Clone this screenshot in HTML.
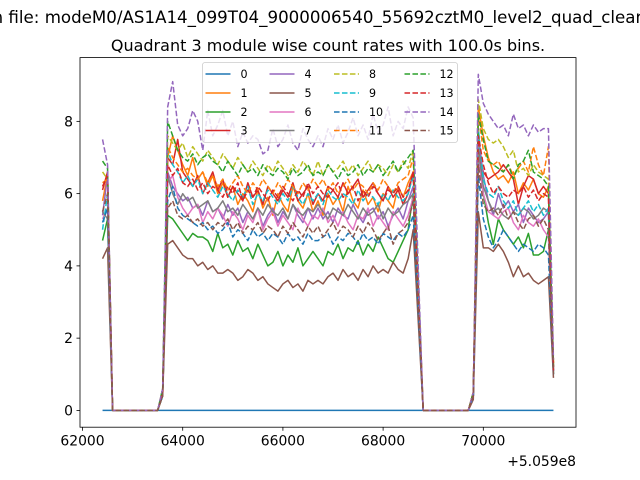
<!DOCTYPE html>
<html><head><meta charset="utf-8"><style>
html,body{margin:0;padding:0;background:#fff;}
svg{display:block;font-family:"DejaVu Sans","Liberation Sans",sans-serif;}
</style></head><body>
<svg id="chart" width="640" height="480" viewBox="0 0 640 480" xmlns="http://www.w3.org/2000/svg">
<rect x="0" y="0" width="640" height="480" fill="#fff"/>
<text id="suptitle" x="678" y="23" font-size="16.67" text-anchor="end" fill="#000">Data from file: modeM0/AS1A14_099T04_9000006540_55692cztM0_level2_quad_clean.evt</text>
<text x="328" y="51" font-size="16" text-anchor="middle" fill="#000">Quadrant 3 module wise count rates with 100.0s bins.</text>
<g id="plot"></g>
<g id="axes"></g>
<g id="legend"></g>
</svg>
<script>
const t0 = 62400;
const step = 100;
const xTicks = [62000, 64000, 66000, 68000, 70000];
const xTickLabels = ["62000", "64000", "66000", "68000", "70000"];
const yTicks = [0, 2, 4, 6, 8];
const yTickLabels = ["0", "2", "4", "6", "8"];
const offsetLabel = "+5.059e8";
const seriesNames = ["0","1","2","3","4","5","6","7","8","9","10","11","12","13","14","15"];
const seriesColors = ["#1f77b4","#ff7f0e","#2ca02c","#d62728","#9467bd","#8c564b","#e377c2","#7f7f7f","#bcbd22","#17becf","#1f77b4","#ff7f0e","#2ca02c","#d62728","#9467bd","#8c564b"];
const seriesDashed = [false,false,false,false,false,false,false,false,true,true,true,true,true,true,true,true];

const s0 = [0,0,0,0,0,0,0,0,0,0,0,0,0,0,0,0,0,0,0,0,0,0,0,0,0,0,0,0,0,0,0,0,0,0,0,0,0,0,0,0,0,0,0,0,0,0,0,0,0,0,0,0,0,0,0,0,0,0,0,0,0,0,0,0,0,0,0,0,0,0,0,0,0,0,0,0,0,0,0,0,0,0,0,0,0,0,0,0,0,0,0];
const s1 = [5.8,6.5,0,0,0,0,0,0,0,0,0,0,0.5,
7.0,7.6,7.2,6.8,6.5,7.0,6.4,6.6,6.2,6.5,6.0,6.3,5.9,6.2,5.7,6.0,5.8,5.5,6.1,5.6,5.9,5.4,6.0,5.7,5.5,6.2,5.8,5.6,6.0,5.5,5.8,5.4,6.0,5.7,5.9,5.5,6.2,5.8,5.6,6.1,5.7,5.9,5.5,6.0,5.8,5.6,6.2,5.9,6.3,6.6,
3.3,0,0,0,0,0,0,0,0,0,0,0.5,
8.4,7.6,7.0,6.6,6.4,6.5,6.3,6.6,6.0,6.3,6.1,6.4,6.0,5.9,6.2,1.2];
const s2 = [4.7,5.3,0,0,0,0,0,0,0,0,0,0,0.4,
5.4,5.3,5.1,4.9,4.7,4.9,4.8,4.8,4.7,4.4,4.9,4.5,4.6,4.3,4.7,4.4,4.5,4.2,4.6,4.3,4.0,4.1,4.4,4.0,4.3,4.1,4.5,4.0,4.2,4.4,4.2,4.0,4.4,4.3,4.6,4.2,4.5,4.4,4.7,4.3,4.6,4.4,4.8,4.5,4.2,4.1,4.4,4.7,5.0,6.0,
3.0,0,0,0,0,0,0,0,0,0,0,0.4,
7.8,6.0,5.2,4.6,5.3,5.0,4.8,4.6,4.8,4.5,4.9,4.3,4.3,4.4,5.0,1.0];
const s3 = [6.1,6.6,0,0,0,0,0,0,0,0,0,0,0.5,
7.0,6.8,7.5,6.6,6.4,6.2,6.5,6.0,6.3,6.6,6.1,6.4,5.9,6.2,6.0,5.8,6.3,5.9,6.1,5.7,6.2,6.0,5.8,6.1,5.9,6.3,5.8,6.0,6.2,5.7,6.0,5.8,6.2,6.1,5.9,6.3,6.0,6.2,6.4,5.9,6.1,6.3,6.0,5.8,6.2,5.9,6.1,5.7,6.0,6.6,
3.3,0,0,0,0,0,0,0,0,0,0,0.5,
7.2,6.6,6.4,6.5,6.6,6.8,6.6,6.4,5.7,6.2,6.5,6.4,6.0,6.2,6.0,1.2];
const s4 = [5.4,6.5,0,0,0,0,0,0,0,0,0,0,0.5,
6.6,6.2,6.0,5.8,5.9,5.6,5.7,5.4,5.8,5.5,5.6,5.3,5.7,5.4,5.6,5.2,5.5,5.3,5.6,5.1,5.4,5.6,5.2,5.5,5.3,5.7,5.4,5.2,5.6,5.3,5.6,5.3,5.5,5.2,5.6,5.4,5.3,5.7,5.4,5.2,5.5,5.6,5.3,5.5,5.1,5.4,5.6,5.3,5.8,6.2,
3.1,0,0,0,0,0,0,0,0,0,0,0.4,
7.6,6.5,5.8,5.4,6.0,5.6,5.8,5.5,5.7,5.2,5.6,5.4,5.2,5.3,5.5,1.1];
const s5 = [4.2,4.5,0,0,0,0,0,0,0,0,0,0,0.4,
4.6,4.7,4.5,4.3,4.2,4.2,4.0,4.1,3.9,4.0,3.8,3.8,3.9,3.8,3.6,3.7,3.9,3.8,3.6,3.7,3.5,3.4,3.3,3.5,3.6,3.4,3.5,3.3,3.6,3.5,3.6,3.5,3.7,3.8,3.6,3.9,3.7,3.8,3.6,3.9,3.7,4.0,3.8,3.9,3.8,4.1,3.9,3.8,4.2,5.0,
2.5,0,0,0,0,0,0,0,0,0,0,0.3,
5.5,4.5,4.5,4.4,4.6,4.4,4.1,3.7,4.0,3.7,3.8,3.6,3.5,3.6,3.7,0.9];
const s6 = [5.3,5.6,0,0,0,0,0,0,0,0,0,0,0.5,
6.3,6.5,5.9,5.6,5.4,5.6,5.7,5.2,5.5,5.3,5.6,5.4,5.1,5.5,5.3,5.0,5.4,5.2,5.6,5.0,5.3,5.5,5.1,5.4,5.2,5.0,5.6,5.3,5.1,5.4,5.3,5.6,5.2,5.4,5.1,5.5,5.2,5.0,5.4,5.3,5.6,5.1,5.4,5.2,5.0,5.5,5.3,5.1,5.4,5.9,
3.0,0,0,0,0,0,0,0,0,0,0,0.4,
7.0,6.0,5.5,5.4,5.3,5.5,5.6,5.2,5.0,5.4,5.2,5.1,5.3,5.0,4.8,1.1];
const s7 = [5.5,5.3,0,0,0,0,0,0,0,0,0,0,0.5,
6.5,6.0,5.7,6.0,5.8,5.9,5.6,5.7,5.8,5.5,5.6,5.8,5.5,5.6,5.4,5.7,5.5,5.3,5.6,5.4,5.7,5.5,5.4,5.6,5.3,5.7,5.5,5.4,5.6,5.5,5.7,5.5,5.3,5.6,5.5,5.4,5.7,5.5,5.3,5.6,5.4,5.5,5.7,5.3,5.6,5.4,5.5,5.7,5.8,6.0,
3.0,0,0,0,0,0,0,0,0,0,0,0.4,
7.2,6.2,5.8,5.5,5.6,5.4,5.3,5.5,5.4,5.6,5.5,5.3,5.4,5.6,5.5,1.1];
const s8 = [6.6,6.4,0,0,0,0,0,0,0,0,0,0,0.6,
7.6,7.4,7.2,7.4,7.0,7.3,7.1,6.9,7.2,7.0,6.8,7.1,6.9,6.7,7.0,6.8,6.6,6.9,6.7,6.5,6.8,6.6,6.9,6.7,6.5,6.8,6.6,6.9,6.7,6.5,6.9,6.5,6.8,6.6,6.7,6.9,6.6,6.8,6.5,6.7,6.9,6.6,6.8,6.7,6.5,6.8,6.6,6.9,6.7,7.2,
3.6,0,0,0,0,0,0,0,0,0,0,0.5,
8.6,7.8,7.5,7.4,7.5,7.3,7.0,7.2,6.6,6.7,6.5,6.8,6.6,6.5,6.4,1.3];
const s9 = [5.0,6.0,0,0,0,0,0,0,0,0,0,0,0.5,
7.2,6.8,6.6,6.3,6.5,6.2,6.4,6.0,6.3,6.1,5.9,6.2,6.0,5.8,6.1,5.9,6.2,5.7,6.0,5.8,6.1,5.9,5.7,6.0,5.8,6.2,5.9,5.7,6.0,5.8,6.0,5.7,6.1,5.9,5.8,6.0,5.9,5.7,6.1,5.8,6.0,5.9,5.7,6.0,5.8,6.1,5.9,5.8,6.0,6.5,
3.2,0,0,0,0,0,0,0,0,0,0,0.4,
7.8,6.4,6.0,5.9,6.2,5.8,5.6,5.8,5.4,5.6,5.8,5.5,5.7,5.4,5.6,1.1];
const s10 = [5.2,5.6,0,0,0,0,0,0,0,0,0,0,0.4,
5.8,6.2,5.6,5.4,5.3,5.2,5.1,5.2,5.0,5.1,4.9,5.0,5.2,4.8,5.0,4.9,4.7,5.0,4.8,4.9,4.7,4.9,4.8,4.6,4.9,4.7,4.8,4.6,4.9,4.7,4.7,4.8,4.9,4.6,4.8,4.7,4.9,4.8,4.6,4.9,4.7,4.8,4.6,4.9,4.8,4.7,4.9,4.8,5.0,5.4,
2.8,0,0,0,0,0,0,0,0,0,0,0.4,
6.5,5.3,4.8,4.5,4.7,5.0,4.8,4.6,4.4,4.6,4.5,4.4,4.6,4.5,4.3,1.0];
const s11 = [6.3,6.4,0,0,0,0,0,0,0,0,0,0,0.5,
7.3,7.0,6.8,6.6,6.7,6.5,6.4,6.6,6.3,6.5,6.2,6.4,6.1,6.3,6.5,6.2,6.0,6.3,6.1,6.4,6.2,6.0,6.3,6.1,6.4,6.2,6.0,6.3,6.1,6.4,6.2,6.4,6.1,6.3,6.0,6.2,6.4,6.1,6.3,6.2,6.0,6.3,6.1,6.4,6.2,6.0,6.3,6.4,6.5,7.0,
3.5,0,0,0,0,0,0,0,0,0,0,0.5,
8.2,7.2,6.9,6.8,6.9,6.6,6.8,6.5,6.7,6.9,6.6,7.3,6.8,6.5,7.3,1.3];
const s12 = [6.9,6.7,0,0,0,0,0,0,0,0,0,0,0.6,
8.0,7.6,7.2,7.0,6.9,7.1,6.8,7.0,7.1,6.9,6.8,6.6,6.9,6.7,6.5,6.8,6.6,6.7,6.5,6.8,6.6,6.5,6.7,6.6,6.4,6.7,6.5,6.6,6.8,6.5,6.6,6.5,6.8,6.6,6.4,6.7,6.5,6.6,6.8,6.5,6.7,6.6,6.8,6.5,6.7,6.9,6.6,6.8,7.0,7.2,
3.6,0,0,0,0,0,0,0,0,0,0,0.5,
8.2,7.5,6.9,6.8,6.7,6.6,6.8,6.4,6.8,6.9,7.2,6.6,6.5,6.4,6.2,1.2];
const s13 = [6.2,6.5,0,0,0,0,0,0,0,0,0,0,0.5,
6.8,6.5,6.7,6.3,6.2,6.4,6.1,6.3,6.0,6.2,6.1,5.9,6.2,6.0,6.3,5.8,6.1,5.9,6.2,6.0,5.8,6.1,5.9,6.2,6.0,5.8,6.1,5.9,6.3,6.0,6.2,6.0,5.9,6.1,6.3,5.9,6.0,6.2,5.8,6.1,5.9,6.2,6.0,5.8,6.1,6.0,6.2,5.9,6.1,6.6,
3.3,0,0,0,0,0,0,0,0,0,0,0.4,
7.6,6.8,6.3,6.0,6.2,6.0,5.9,6.1,6.0,6.2,5.9,6.1,5.8,6.0,5.9,1.1];
const s14 = [7.5,6.8,0,0,0,0,0,0,0,0,0,0,0.6,
8.4,9.1,7.9,7.6,7.8,8.3,8.0,7.2,8.3,7.6,7.9,8.3,7.6,8.0,7.3,7.7,7.4,7.6,7.5,7.1,7.2,7.8,7.3,7.5,7.9,7.4,7.2,7.8,7.5,7.3,7.6,7.3,7.8,7.5,7.9,7.4,7.7,8.1,7.6,7.9,7.5,8.2,7.7,7.9,8.4,7.6,8.0,7.8,8.4,8.1,
4.0,0,0,0,0,0,0,0,0,0,0,0.5,
9.3,8.5,8.2,8.0,7.8,7.9,7.6,8.2,7.8,7.9,7.6,7.9,7.7,7.8,7.8,1.4];
const s15 = [5.5,6.0,0,0,0,0,0,0,0,0,0,0,0.4,
5.6,5.8,5.4,5.3,5.4,5.2,5.3,5.1,5.2,5.0,5.2,5.1,5.3,5.0,5.2,4.9,5.1,5.0,5.2,4.9,5.1,5.0,4.8,5.1,4.9,5.2,5.0,4.8,5.1,4.9,5.1,4.8,5.0,5.2,4.9,5.1,5.0,4.8,5.1,4.9,5.2,5.0,4.7,4.9,5.1,4.6,4.9,5.0,5.2,5.8,
2.9,0,0,0,0,0,0,0,0,0,0,0.4,
6.8,5.7,5.5,5.6,5.4,5.7,5.3,5.5,5.2,5.0,5.3,5.4,5.1,5.3,5.0,1.0];
const seriesValues = [s0,s1,s2,s3,s4,s5,s6,s7,s8,s9,s10,s11,s12,s13,s14,s15];

const NS = "http://www.w3.org/2000/svg";
const AX = {left:80, right:576, top:57.6, bottom:427.2};
const n = s0.length;
const tMin = t0, tMax = t0 + step*(n-1);
let vMax = 0;
seriesValues.forEach(s => s.forEach(v => { if (v > vMax) vMax = v; }));
const xPad = (tMax - tMin)*0.05;
const xDomain = [tMin - xPad, tMax + xPad];
const yDomain = [0 - vMax*0.05, vMax*1.05];
function xScale(t){ return AX.left + (t - xDomain[0])/(xDomain[1]-xDomain[0])*(AX.right-AX.left); }
function yScale(v){ return AX.bottom - (v - yDomain[0])/(yDomain[1]-yDomain[0])*(AX.bottom-AX.top); }
function mk(tag, attrs, parent){ const e = document.createElementNS(NS, tag); for (const k in attrs) e.setAttribute(k, attrs[k]); parent.appendChild(e); return e; }

const plot = document.getElementById('plot');
const clip = mk('clipPath', {id:'clipAx'}, plot);
mk('rect', {x:AX.left, y:AX.top, width:AX.right-AX.left, height:AX.bottom-AX.top}, clip);
const lines = mk('g', {'clip-path':'url(#clipAx)'}, plot);
seriesValues.forEach((vals, k) => {
  const pts = vals.map((v,i) => xScale(t0 + step*i).toFixed(2) + ',' + yScale(v).toFixed(2)).join(' ');
  const pl = mk('polyline', {points:pts, fill:'none', stroke:seriesColors[k], 'stroke-width':1.5, 'stroke-linejoin':'round'}, lines);
  if (seriesDashed[k]) pl.setAttribute('stroke-dasharray', '5.55,2.4');
  
  
});

const axes = document.getElementById('axes');
const frame = mk('rect', {x:AX.left, y:AX.top, width:AX.right-AX.left, height:AX.bottom-AX.top, fill:'none', stroke:'#000', 'stroke-width':0.8}, axes);


xTicks.forEach((t, i) => {
  const x = xScale(t);
  mk('line', {x1:x, x2:x, y1:AX.bottom, y2:AX.bottom+3.5, stroke:'#000', 'stroke-width':0.8}, axes);
  const tx = mk('text', {x:x, y:AX.bottom+18.5, 'font-size':13.9, 'text-anchor':'middle', fill:'#000'}, axes);
  tx.textContent = xTickLabels[i];
  
  
});
yTicks.forEach((v, i) => {
  const y = yScale(v);
  mk('line', {x1:AX.left-3.5, x2:AX.left, y1:y, y2:y, stroke:'#000', 'stroke-width':0.8}, axes);
  const tx = mk('text', {x:AX.left-7, y:y+5, 'font-size':13.9, 'text-anchor':'end', fill:'#000'}, axes);
  tx.textContent = yTickLabels[i];
  
  
});
const off = mk('text', {x:AX.right, y:466, 'font-size':13.9, 'text-anchor':'end', fill:'#000'}, axes);
off.textContent = offsetLabel;



const legend = document.getElementById('legend');
const lbox = mk('rect', {x:202.5, y:62.5, width:255, height:80, rx:2.5, fill:'#fff', 'fill-opacity':0.8, stroke:'#cccccc', 'stroke-width':0.8}, legend);


const colX = [205.5, 269.5, 334, 404.5];
const rowY = [74, 93, 112, 130.5];
seriesNames.forEach((name, k) => {
  const c = Math.floor(k/4), r = k%4;
  const g = mk('g', {}, legend);
  
  
  const ln = mk('line', {x1:colX[c], x2:colX[c]+25, y1:rowY[r], y2:rowY[r], stroke:seriesColors[k], 'stroke-width':1.5}, g);
  if (seriesDashed[k]) ln.setAttribute('stroke-dasharray', '5.55,2.4');
  const tx = mk('text', {x:colX[c]+35, y:rowY[r]+4, 'font-size':11.1, fill:'#000'}, g);
  tx.textContent = name;
});
</script>
</body></html>
